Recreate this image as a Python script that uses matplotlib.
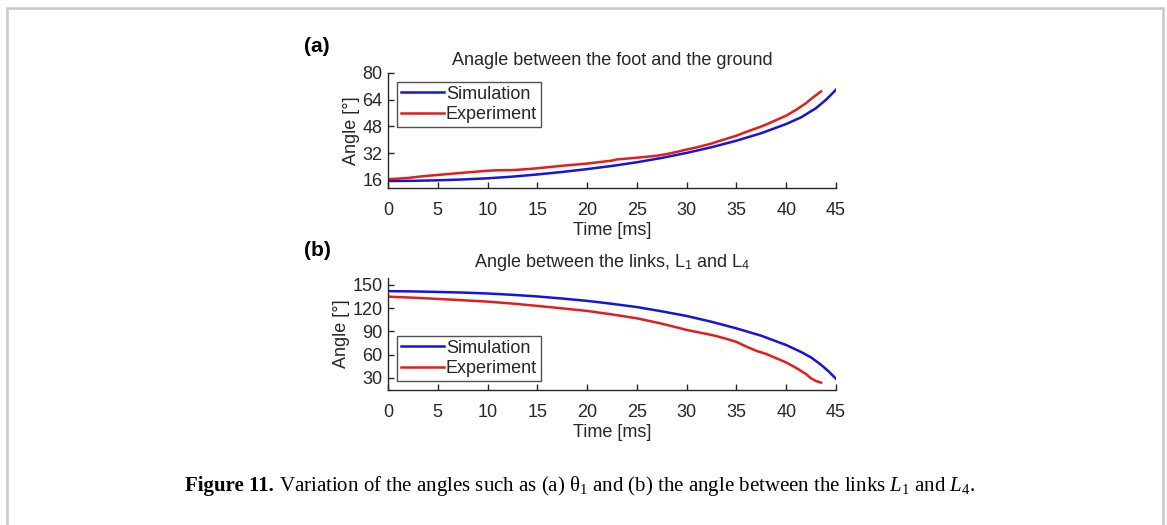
import numpy as np
import matplotlib.pyplot as plt
from matplotlib.patches import Rectangle

# (a) angle between the foot and the ground
t_sim_a = [0, 2.5, 5, 7.5, 10, 12.5, 15, 17.5, 20, 22.5, 25, 27.5, 30, 32.5, 35, 37.5, 40, 41.5, 43, 44, 45]
sim_a = [15.4, 15.5, 15.8, 16.3, 17.0, 18.0, 19.3, 20.8, 22.5, 24.4, 26.6, 29.2, 32.2, 35.6, 39.5, 44.0, 49.5,
         53.5, 59.0, 64.0, 70.0]
t_exp_a = [0, 1, 2, 3, 4, 5, 7.5, 10, 11, 12.5, 14, 15, 17.5, 20, 22.5, 23, 25, 27, 28, 29, 30, 31, 32.5, 33,
           35, 36, 37.5, 38, 40, 41, 42, 42.5, 43.5]
exp_a = [16.5, 16.8, 17.2, 17.9, 18.5, 19.0, 20.3, 21.5, 21.8, 21.9, 22.5, 23.0, 24.5, 25.8, 27.6, 28.3, 29.3,
         30.5, 31.5, 32.8, 34.2, 35.5, 37.8, 38.8, 42.5, 44.8, 48.0, 49.2, 54.5, 58.0, 62.0, 64.5, 69.0]

# (b) angle between the links L1 and L4
t_sim_b = [0, 2.5, 5, 7.5, 10, 12.5, 15, 17.5, 20, 22.5, 25, 27.5, 30, 32.5, 35, 37.5, 40, 41.5, 42.5, 43.5,
           44.3, 45]
sim_b = [142, 141.7, 141, 140.2, 139, 137.3, 135.2, 132.5, 129.5, 125.7, 121.5, 116, 110, 102.5, 94, 84.5,
         72.5, 63.5, 56.5, 47, 38, 29]
t_exp_b = [0, 2.5, 5, 7.5, 10, 12.5, 15, 17.5, 20, 22.5, 25, 27, 28, 30, 32.5, 33, 34, 35, 36, 37, 38, 39, 40,
           41, 42, 42.5, 43, 43.5]
exp_b = [135, 133.6, 132, 130.3, 128.5, 126, 123, 119.8, 116.5, 112, 107, 101.5, 98.5, 92, 85.5, 84, 80.5,
         76.5, 70.5, 65, 61, 55.5, 50, 43, 35, 29.5, 26, 24]

xticks = [0, 5, 10, 15, 20, 25, 30, 35, 40, 45]
yticks_a = [16, 32, 48, 64, 80]
yticks_b = [30, 60, 90, 120, 150]

W, H = 1167, 525
plt.rcParams['font.family'] = ['Liberation Sans', 'DejaVu Sans']
plt.rcParams['mathtext.fontset'] = 'custom'
plt.rcParams['mathtext.rm'] = 'Liberation Serif'
plt.rcParams['mathtext.it'] = 'Liberation Serif:italic'
fig = plt.figure(figsize=(W / 100, H / 100), dpi=100)

# gray page frame
fig.patches.append(Rectangle((7 / W, -0.05), 1156 / W, 1 - 8 / H + 0.05, transform=fig.transFigure,
                             fill=False, edgecolor='#c8c8c8', linewidth=1.8))


def px_axes(left, top, right, bottom):
    return fig.add_axes([left / W, 1 - bottom / H, (right - left) / W, (bottom - top) / H])


blue = '#1414dc'
red = '#e01e1e'
tick_color = '#262626'
fs = 13

panels = [
    (px_axes(388, 73, 836, 188), t_sim_a, sim_a, t_exp_a, exp_a, yticks_a, (11.2, 80),
     'Anagle between the foot and the ground', 'upper left', '(a)', 47, 6),
    (px_axes(388, 278, 836, 390), t_sim_b, sim_b, t_exp_b, exp_b, yticks_b, (14.5, 159),
     'Angle between the links, L$_\\mathregular{1}$ and L$_\\mathregular{4}$', 'lower left', '(b)', 250, 8),
]

for ax, ts, ys, te, ye, yt, ylim, title, loc, tag, tag_y, tpad in panels:
    ax.plot(ts, ys, color=blue, linewidth=1.8, label='Simulation')
    ax.plot(te, ye, color=red, linewidth=1.8, label='Experiment')
    ax.set_xlim(0, 45)
    ax.set_ylim(*ylim)
    ax.set_xticks(xticks)
    ax.set_yticks(yt)
    ax.spines['top'].set_visible(False)
    ax.spines['right'].set_visible(False)
    for s in ['left', 'bottom']:
        ax.spines[s].set_color(tick_color)
        ax.spines[s].set_linewidth(1.0)
    ax.tick_params(direction='in', length=4, width=1, colors=tick_color, labelsize=fs)
    ax.tick_params(axis='x', pad=10)
    ax.tick_params(axis='y', pad=4)
    ax.set_xlabel('Time [ms]', fontsize=fs, color=tick_color, labelpad=2)
    ax.set_ylabel('Angle [°]', fontsize=fs, color=tick_color, labelpad=2)
    ax.set_title(title, fontsize=fs, color=tick_color, pad=tpad)
    leg = ax.legend(loc=loc, fontsize=fs, frameon=True, fancybox=False, handlelength=2.4,
                    handletextpad=0.1, borderpad=0.2, labelspacing=0.2, borderaxespad=0.5)
    leg.get_frame().set_edgecolor(tick_color)
    leg.get_frame().set_linewidth(1.0)
    for txt in leg.get_texts():
        txt.set_color(tick_color)
    fig.text(304 / W, 1 - tag_y / H, tag, fontsize=15, fontweight='bold', va='center', ha='left')

# caption
cap_y = 1 - 486 / H
t1 = fig.text(185 / W, cap_y, 'Figure 11.', fontsize=15, fontweight='bold', family='Liberation Serif',
              va='center', ha='left')
fig.canvas.draw()
bb = t1.get_window_extent()
fig.text((bb.x1 + 5) / W, cap_y,
         'Variation of the angles such as (a) $\\mathrm{\\theta}_\\mathrm{1}$ and (b) the angle between the links '
         '$L_\\mathrm{1}$ and $L_\\mathrm{4}$.',
         fontsize=15, family='Liberation Serif', va='center', ha='left')

fig.savefig('out.png', dpi=100)
